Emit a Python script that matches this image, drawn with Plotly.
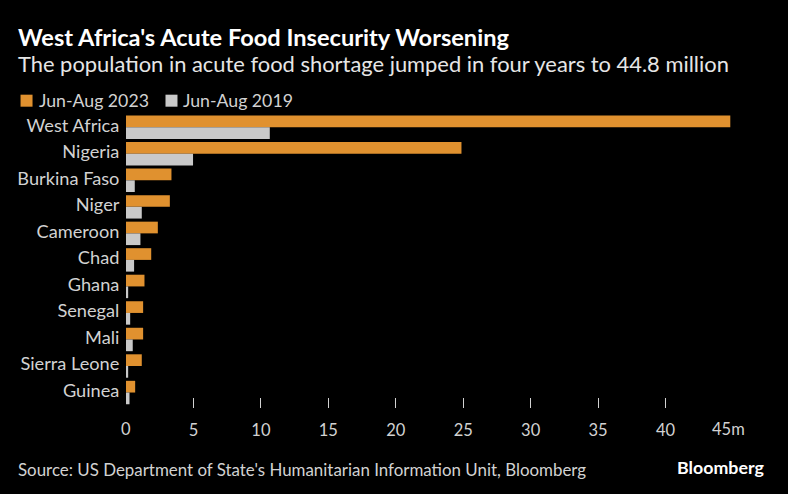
import plotly.graph_objects as go

# Values in millions of people
countries = ["West Africa", "Nigeria", "Burkina Faso", "Niger", "Cameroon", "Chad",
             "Ghana", "Senegal", "Mali", "Sierra Leone", "Guinea"]
jun_aug_2023 = [44.8, 24.87, 3.37, 3.25, 2.36, 1.87, 1.37, 1.27, 1.27, 1.17, 0.68]
jun_aug_2019 = [10.66, 4.97, 0.65, 1.17, 1.07, 0.6, 0.16, 0.31, 0.5, 0.16, 0.26]
tick_values = [5, 10, 15, 20, 25, 30, 35, 40, 45]
tick_labels = ["5", "10", "15", "20", "25", "30", "35", "40", ""]

ORANGE = "#E0912F"
GREY = "#C9C9C9"
TEXT = "#D2D2D2"
FONT = "Lato"

# Plot area edges in page pixels
LEFT, RIGHT, TOP, BOTTOM = 125.5, 732.7, 114.3, 408.0


def px(x):
    return (x - LEFT) / (RIGHT - LEFT)


def py(y):
    return (BOTTOM - y) / (BOTTOM - TOP)


fig = go.Figure()
fig.add_trace(go.Bar(y=countries, x=jun_aug_2023, orientation="h", name="Jun-Aug 2023",
                     marker={"color": ORANGE, "line": {"width": 0}}))
fig.add_trace(go.Bar(y=countries, x=jun_aug_2019, orientation="h", name="Jun-Aug 2019",
                     marker={"color": GREY, "line": {"width": 0}}))


def text(x, y, s, size, color=TEXT, anchor="left", weight=None):
    if weight:
        s = "<b>{}</b>".format(s)
    fig.add_annotation(x=px(x), y=py(y), xref="paper", yref="paper", text=s, showarrow=False,
                       xanchor=anchor, yanchor="middle", align=anchor, borderpad=0, borderwidth=0,
                       font={"family": FONT, "size": size, "color": color})


# Headline block, legend, footer
text(17, 37.5, "West Africa's Acute Food Insecurity Worsening", 23.6, "#FFFFFF", weight=True)
text(17, 64, "The population in acute food shortage jumped in four years to 44.8 million", 21.9, "#E6E6E6")
text(38, 101, "Jun-Aug 2023", 17.7)
text(183, 101, "Jun-Aug 2019", 17.7)
text(17, 469, "Source: US Department of State's Humanitarian Information Unit, Bloomberg", 16.9)
text(764, 467, "Bloomberg", 17.8, "#FFFFFF", anchor="right", weight=True)

# Legend swatches
for x0, colour in [(20, ORANGE), (165, GREY)]:
    fig.add_shape(type="rect", xref="paper", yref="paper", x0=px(x0), x1=px(x0 + 12),
                  y0=py(107), y1=py(95), fillcolor=colour, line={"width": 0})

# 0 has no tick and 45m sits left of its tick, so these two are placed by hand
text(125.5, 429, "0", 16.5, anchor="center")
text(728, 429, "45m", 16.5, anchor="center")

fig.update_layout(
    width=788, height=494,
    margin={"l": LEFT, "r": 788 - RIGHT, "t": TOP, "b": 494 - BOTTOM, "pad": 0},
    paper_bgcolor="#000000", plot_bgcolor="#000000",
    barmode="group", bargap=0.117, bargroupgap=0,
    showlegend=False,
    font={"family": FONT, "color": TEXT},
    xaxis={"range": [0, 45], "showgrid": False, "zeroline": False, "showline": False,
           "tickmode": "array", "tickvals": tick_values, "ticktext": tick_labels,
           "ticks": "inside", "ticklen": 10, "tickwidth": 1, "tickcolor": TEXT,
           "ticklabelstandoff": 10, "tickfont": {"family": FONT, "size": 16.5, "color": TEXT}},
    yaxis={"type": "category", "categoryorder": "array", "categoryarray": countries,
           "range": [10.583, -0.5], "showgrid": False, "zeroline": False, "showline": False,
           "ticks": "outside", "ticklen": 2, "tickcolor": "rgba(0,0,0,0)", "ticklabelshift": 2,
           "tickfont": {"family": FONT, "size": 18.2, "color": TEXT}},
)

fig.write_html("out.html", post_script="document.body.style.margin='0';document.body.style.overflow='hidden';",
               config={"displayModeBar": False})
